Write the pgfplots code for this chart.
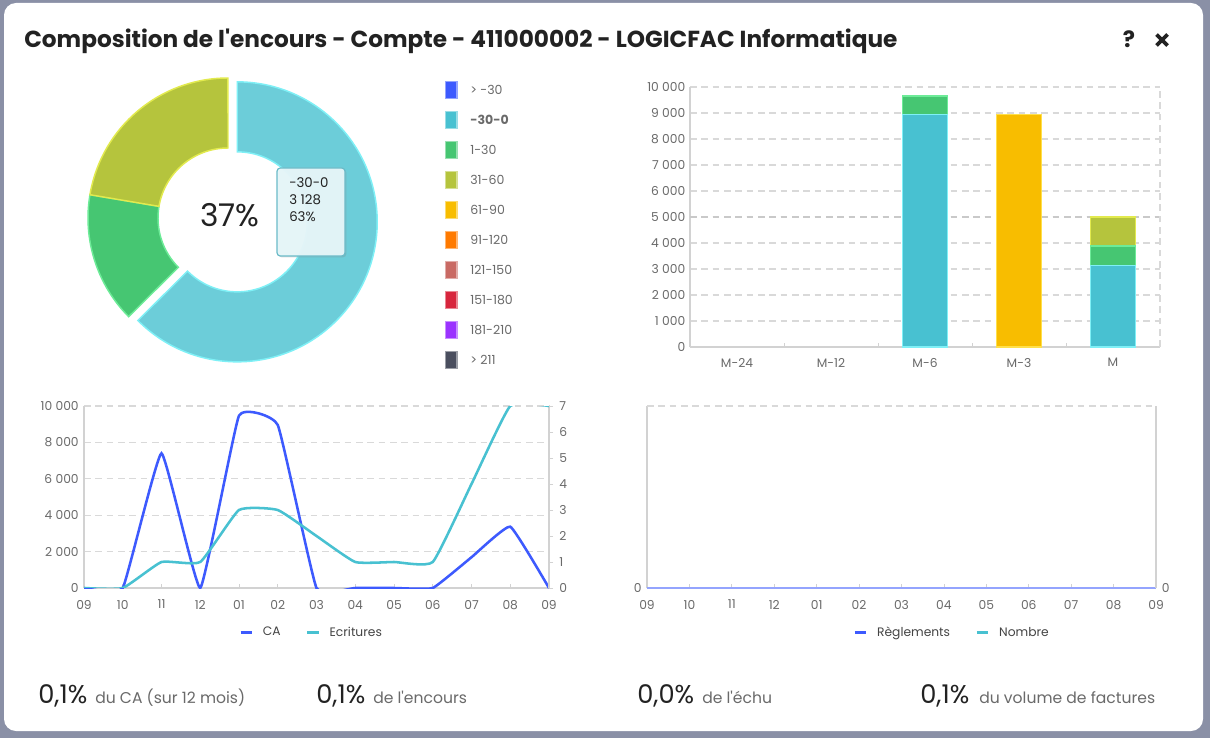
\documentclass[border=0pt]{standalone}
\usepackage{fontspec}
\setmainfont{Poppins}[Ligatures=TeXOff]
\usepackage{pgfplots}
\pgfplotsset{compat=1.18}
\usetikzlibrary{shadows}

\definecolor{bg}{HTML}{8A90A6}
\definecolor{txt}{HTML}{222222}
\definecolor{lbl}{HTML}{6A6A6A}
\definecolor{leg}{HTML}{444444}
\definecolor{gridc}{HTML}{D9D9D9}
\definecolor{axisln}{HTML}{D2D2D2}
\definecolor{cBlue}{HTML}{3D5AFE}
\definecolor{cTeal}{HTML}{48C1D1}
\definecolor{cTealPie}{HTML}{6CCDD9}
\definecolor{cGreen}{HTML}{46C672}
\definecolor{cOlive}{HTML}{B5C43D}
\definecolor{cYellow}{HTML}{F8BD00}
\definecolor{cOrange}{HTML}{FF7A00}
\definecolor{cRose}{HTML}{C96A64}
\definecolor{cRed}{HTML}{D7263D}
\definecolor{cViolet}{HTML}{9B33FF}
\definecolor{cDark}{HTML}{4A4E5E}
\definecolor{bTeal}{HTML}{7FF0F6}
\definecolor{bGreen}{HTML}{6DEB98}
\definecolor{bOlive}{HTML}{E2EA4E}
\definecolor{bYellow}{HTML}{FFE04A}
\definecolor{tipfill}{HTML}{E6F6F9}
\definecolor{tipdraw}{HTML}{6BBBC8}
\definecolor{grid5}{HTML}{C9C9C9}

\tikzset{dash grid/.style={draw=gridc, line width=0.8pt, dash pattern=on 5pt off 3.5pt}}
\pgfplotsset{
  common/.style={
    scale only axis,
    /pgf/number format/assume math mode=true,
    /pgf/number format/1000 sep={\ },
    scaled y ticks=false,
    tick label style={font=\fontsize{9.2}{11}\selectfont, text=lbl},
    axis line style={draw=axisln, line width=0.8pt},
    tick style={draw=axisln, line width=0.6pt},
    grid style={dash grid},
  },
  monthaxis/.style={
    common,
    xmin=0, xmax=12,
    xtick={0,...,12},
    xticklabels={09,10,11,12,01,02,03,04,05,06,07,08,09},
    x tick label style={yshift=-5.5pt},
    xtick align=inside,
    x tick style={/pgfplots/major tick length=3pt},
    ytick align=outside,
    y tick style={/pgfplots/major tick length=0pt},
  },
  hlegend/.style={
    legend style={draw=none, fill=none,
      font=\fontsize{9.2}{11}\selectfont, text=leg, legend columns=2,
      /tikz/every odd column/.append style={column sep=5pt},
      /tikz/every even column/.append style={column sep=17pt}},
    legend image code/.code={\draw[line width=2.3pt] (0pt,0pt) -- (8.5pt,0pt);}},
}

\pgfmathsetmacro\vA{3128}
\pgfmathsetmacro\vB{755}
\pgfmathsetmacro\vC{1117}
\pgfmathsetmacro\vT{\vA+\vB+\vC}
\pgfmathsetmacro\aA{90-360*(\vA/\vT)}
\pgfmathsetmacro\aB{\aA-360*(\vB/\vT)}
\pgfmathsetmacro\aC{\aB-360*(\vC/\vT)}
\pgfmathsetmacro\aBis{(90+\aA)/2}

\begin{document}
\begin{tikzpicture}[x=0.75pt,y=-0.75pt]
\useasboundingbox (0,0) rectangle (1210,738);
\fill[bg] (0,0) rectangle (1210,738);
\fill[white, rounded corners=9pt] (4,3) rectangle (1203,731);

% ---------- title ----------
\node[anchor=base west, inner sep=0, text=txt, font=\fontsize{17.4}{20}\selectfont\bfseries] at (24,48) {Composition de l'encours - Compte - 411000002 - LOGICFAC Informatique};
\node[anchor=base, inner sep=0, text=txt, font=\fontsize{17}{20}\selectfont\bfseries] at (1129,48) {?};
\draw[txt, line width=2.7pt] (1156.5,34.5) -- (1167.5,45.5) (1156.5,45.5) -- (1167.5,34.5);

% ---------- donut ----------
\begin{axis}[at={(171pt,-163.5pt)}, anchor=center, scale only axis, width=225pt, height=225pt,
  xmin=-150, xmax=150, ymin=-150, ymax=150, hide axis, clip=false]
\filldraw[fill=cTealPie, draw=bTeal, line width=1.1pt]
  (axis cs:0,0) ++(\aBis:7.5pt) ++(90:52.5pt)
  arc[start angle=90, end angle=\aA, radius=52.5pt] -- ++(\aA:52.5pt)
  arc[start angle=\aA, end angle=90, radius=105pt] -- cycle;
\filldraw[fill=cGreen, draw=bGreen, line width=1.1pt]
  (axis cs:0,0) ++(\aA:52.5pt)
  arc[start angle=\aA, end angle=\aB, radius=52.5pt] -- ++(\aB:52.5pt)
  arc[start angle=\aB, end angle=\aA, radius=105pt] -- cycle;
\filldraw[fill=cOlive, draw=bOlive, line width=1.1pt]
  (axis cs:0,0) ++(\aB:52.5pt)
  arc[start angle=\aB, end angle=\aC, radius=52.5pt] -- ++(\aC:52.5pt)
  arc[start angle=\aC, end angle=\aB, radius=105pt] -- cycle;
\end{axis}
\node[anchor=base, inner sep=0, text=txt, font=\fontsize{23.5}{26}\selectfont] at (230,227) {37\%};
% tooltip
\filldraw[fill=tipfill, fill opacity=0.96, draw=tipdraw, line width=0.9pt, rounded corners=2.5pt,
  drop shadow={opacity=0.25, shadow xshift=1pt, shadow yshift=-1pt}] (277,168) rectangle (345,256);
\begin{scope}[every node/.style={anchor=base west, inner sep=0, text=txt, font=\fontsize{10}{11}\selectfont}]
\node at (289,188) {-30-0};
\node at (289,204.5) {3 128};
\node at (289,221) {63\%};
\end{scope}

% legend of the donut
\foreach \c/\t [count=\i from 0] in {cBlue/{> -30}, cTeal/{\textbf{-30-0}}, cGreen/{1-30}, cOlive/{31-60}, cYellow/{61-90}, cOrange/{91-120}, cRose/{121-150}, cRed/{151-180}, cViolet/{181-210}, cDark/{> 211}}{
  \filldraw[fill=\c, draw=\c!55!white, line width=0.8pt] (445.5,{81.5+30*\i}) rectangle (457,{98.5+30*\i});
  \node[anchor=west, inner sep=0, text=lbl, font=\fontsize{9.4}{11}\selectfont] at (470,{90+30*\i}) {\t};
}

% ---------- stacked bars ----------
\begin{axis}[common, at={(517.5pt,-65.25pt)}, anchor=north west, width=352.5pt, height=195pt,
  xmin=-0.5, xmax=4.5, ymin=0, ymax=10000,
  xtick={0,...,4}, xticklabels={M-24,M-12,M-6,M-3,M},
  x tick label style={yshift=-5pt},
  ytick={0,1000,...,10000},
  axis x line*=bottom, axis y line*=left,
  ymajorgrids, major tick length=0pt,
  extra x ticks={0.5,1.5,2.5,3.5}, extra x tick labels={},
  extra x tick style={xtick align=inside, /pgfplots/major tick length=3pt, grid=none},
  extra y ticks={5000}, extra y tick labels={},
  extra y tick style={grid style={draw=grid5, line width=1.1pt, dash pattern=on 5pt off 3.5pt}},
  ybar, bar width=33.75pt, bar shift=0pt,
  after end axis/.code={\draw[dash grid] (rel axis cs:1,0) -- (rel axis cs:1,1);}]
% 31-60 on top of M (cumulative top 5000)
\addplot[fill=cOlive, draw=bOlive, line width=0.9pt] coordinates {(4,5000)};
% 1-30 (cumulative tops)
\addplot[fill=cGreen, draw=bGreen, line width=0.9pt] coordinates {(2,9650) (4,3883)};
% -30-0
\addplot[fill=cTeal, draw=bTeal, line width=0.9pt] coordinates {(2,8930) (4,3128)};
% 61-90
\addplot[fill=cYellow, draw=bYellow, line width=0.9pt] coordinates {(3,8930)};
\end{axis}

% ---------- CA / Ecritures ----------
\begin{axis}[monthaxis, hlegend, at={(63pt,-304.5pt)}, anchor=north west, width=348.75pt, height=136.5pt,
  ymin=0, ymax=10000, ytick={0,2000,...,10000},
  y tick label style={xshift=3.8pt},
  axis x line*=bottom, axis y line*=left, ymajorgrids,
  legend style={at={(0.49,-0.245)}, anchor=center}]
\addplot[cBlue, line width=1.9pt, smooth, tension=0.2] coordinates {
  (0,0) (1,0) (2,7400) (3,0) (4,9470) (5,8960) (6,0) (7,0) (8,0) (9,0) (10,1690) (11,3370) (12,0)};
\addlegendentry{CA}
\addlegendimage{cTeal}
\addlegendentry{Ecritures}
\end{axis}
\begin{axis}[monthaxis, at={(63pt,-304.5pt)}, anchor=north west, width=348.75pt, height=136.5pt,
  ymin=0, ymax=7, ytick={0,...,7},
  axis x line=none, axis y line*=right,
  y tick style={/pgfplots/major tick length=3pt}]
\addplot[cTeal, line width=1.9pt, smooth, tension=0.25] coordinates {
  (0,0) (1,0) (2,1) (3,1) (4,3) (5,3) (6,2) (7,1) (8,1) (9,1) (10,4) (11,7) (12,7)};
\end{axis}

% ---------- Reglements / Nombre ----------
\begin{axis}[monthaxis, hlegend, at={(485.25pt,-304.5pt)}, anchor=north west, width=381.75pt, height=136.5pt,
  ymin=0, ymax=1, ytick={0},
  y tick label style={xshift=3.8pt},
  axis x line*=bottom, axis y line*=left,
  extra y ticks={1}, extra y tick labels={}, extra y tick style={ymajorgrids},
  legend style={at={(0.6,-0.245)}, anchor=center}]
\addplot[cTeal, line width=1.9pt, forget plot] coordinates {
  (0,0) (1,0) (2,0) (3,0) (4,0) (5,0) (6,0) (7,0) (8,0) (9,0) (10,0) (11,0) (12,0)};
\addplot[cBlue!55!white, line width=1.9pt, forget plot] coordinates {
  (0,0) (1,0) (2,0) (3,0) (4,0) (5,0) (6,0) (7,0) (8,0) (9,0) (10,0) (11,0) (12,0)};
\addlegendimage{cBlue}
\addlegendentry{Règlements}
\addlegendimage{cTeal}
\addlegendentry{Nombre}
\end{axis}
\begin{axis}[monthaxis, at={(485.25pt,-304.5pt)}, anchor=north west, width=381.75pt, height=136.5pt,
  ymin=0, ymax=1, ytick={0},
  y tick label style={xshift=-3.5pt},
  axis x line=none, axis y line*=right]
\end{axis}

% ---------- bottom figures ----------
\begin{scope}[every node/.style={anchor=base west, inner sep=0}]
\node[text=txt, font=\fontsize{19.3}{21}\selectfont] at (38,703) {0,1\%};
\node[text=lbl, font=\fontsize{11.7}{13}\selectfont] at (95,703) {du CA (sur 12 mois)};
\node[text=txt, font=\fontsize{19.3}{21}\selectfont] at (316,703) {0,1\%};
\node[text=lbl, font=\fontsize{11.7}{13}\selectfont] at (373,703) {de l'encours};
\node[text=txt, font=\fontsize{19.3}{21}\selectfont] at (637,703) {0,0\%};
\node[text=lbl, font=\fontsize{11.7}{13}\selectfont] at (702,703) {de l'échu};
\node[text=txt, font=\fontsize{19.3}{21}\selectfont] at (920,703) {0,1\%};
\node[text=lbl, font=\fontsize{11.7}{13}\selectfont] at (979,703) {du volume de factures};
\end{scope}
\end{tikzpicture}
\end{document}
